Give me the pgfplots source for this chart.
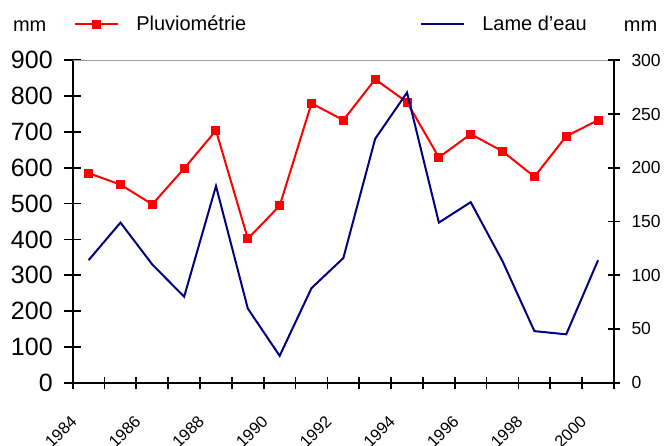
\documentclass[border=0pt]{standalone}
\usepackage{pgfplots}
\pgfplotsset{compat=1.18}
\usepackage{pgfplotstable}
\usepackage{fontspec}
\setmainfont{Liberation Sans}
\definecolor{pluvred}{RGB}{255,0,0}
\definecolor{lamenavy}{RGB}{0,0,128}
\definecolor{topgray}{RGB}{160,160,160}

\pgfplotsset{
  pluvlegend/.style={legend image code/.code={\draw[mark repeat=2,mark phase=2,##1] plot coordinates {(0bp,0bp) (21.5bp,0bp) (43bp,0bp)};}},
  linelegend/.style={legend image code/.code={\draw[##1] (0bp,0bp) -- (43bp,0bp);}},
}

\pgfplotstableread{
year value
1984 585
1985 553
1986 498
1987 598
1988 704
1989 402
1990 494
1991 780
1992 733
1993 847
1994 783
1995 629
1996 694
1997 646
1998 575
1999 688
2000 733
}\pluvtable

\pgfplotstableread{
year value
1984 114
1985 149
1986 110
1987 80
1988 183
1989 69
1990 25
1991 88
1992 116
1993 227
1994 270
1995 149
1996 168
1997 113
1998 48
1999 45
2000 114
}\lametable

\begin{document}
\begin{tikzpicture}[x=1bp,y=1bp]
\path[use as bounding box] (-72.7bp,-63.3bp) rectangle (592.3bp,382.7bp);
% left axis: pluviometrie
\begin{axis}[
  at={(0,0)}, anchor=south west,
  scale only axis, width=541.3bp, height=322.4bp,
  xmin=1983.5, xmax=2000.5, ymin=0, ymax=900,
  axis x line=none, axis y line*=left,
  axis line style={black, line width=2bp},
  ytick={0,100,...,900},
  major tick length=17bp, tick align=center,
  tick style={black, line width=1.8bp},
  /pgf/number format/assume math mode=true,
  /pgf/number format/1000 sep={},
  yticklabel style={font=\fontsize{25bp}{25bp}\selectfont, anchor=east, xshift=-8bp},
  clip=false,
  legend columns=2,
  legend style={draw=none, fill=none, at={(rel axis cs:-0.003,1.1117)}, anchor=west,
    font=\fontsize{20bp}{24bp}\selectfont,
    /tikz/every odd column/.append style={column sep=15bp},
    /tikz/every even column/.append style={column sep=172bp}},
]
\draw[topgray, line width=1.5bp] (rel axis cs:0,1) -- (rel axis cs:1,1);
\addplot[pluvred, line width=2bp, mark=square*, mark size=4bp,
  mark options={fill=pluvred, draw=pluvred, line width=1bp}, pluvlegend]
  table[x=year, y=value] {\pluvtable};
\addlegendentry{Pluviométrie}
\addlegendimage{lamenavy, line width=2bp, linelegend}
\addlegendentry{Lame d'eau}
\end{axis}
% right axis: lame d'eau
\begin{axis}[
  at={(0,0)}, anchor=south west,
  scale only axis, width=541.3bp, height=322.4bp,
  xmin=1983.5, xmax=2000.5, ymin=0, ymax=300,
  axis x line*=bottom, axis y line*=right,
  axis line style={black, line width=2bp},
  ytick={0,50,...,300},
  xtick={1983.5,1984.5,...,2000.5},
  xticklabels={1984,,1986,,1988,,1990,,1992,,1994,,1996,,1998,,2000,{}},
  major tick length=12bp, tick align=center,
  tick style={black, line width=1.8bp},
  /pgf/number format/assume math mode=true,
  /pgf/number format/1000 sep={},
  yticklabel style={font=\fontsize{17.5bp}{17.5bp}\selectfont, anchor=west, xshift=8bp},
  xticklabel style={font=\fontsize{16.5bp}{16.5bp}\selectfont, xshift=-3bp, yshift=-21bp, rotate=45, anchor=north east},
  clip=false,
]
\addplot[lamenavy, line width=2bp, no marks] table[x=year, y=value] {\lametable};
\end{axis}
\node[anchor=base, font=\fontsize{20bp}{24bp}\selectfont] at (-43bp,351bp) {mm};
\node[anchor=base, font=\fontsize{20bp}{24bp}\selectfont] at (567.8bp,351bp) {mm};
\end{tikzpicture}
\end{document}
